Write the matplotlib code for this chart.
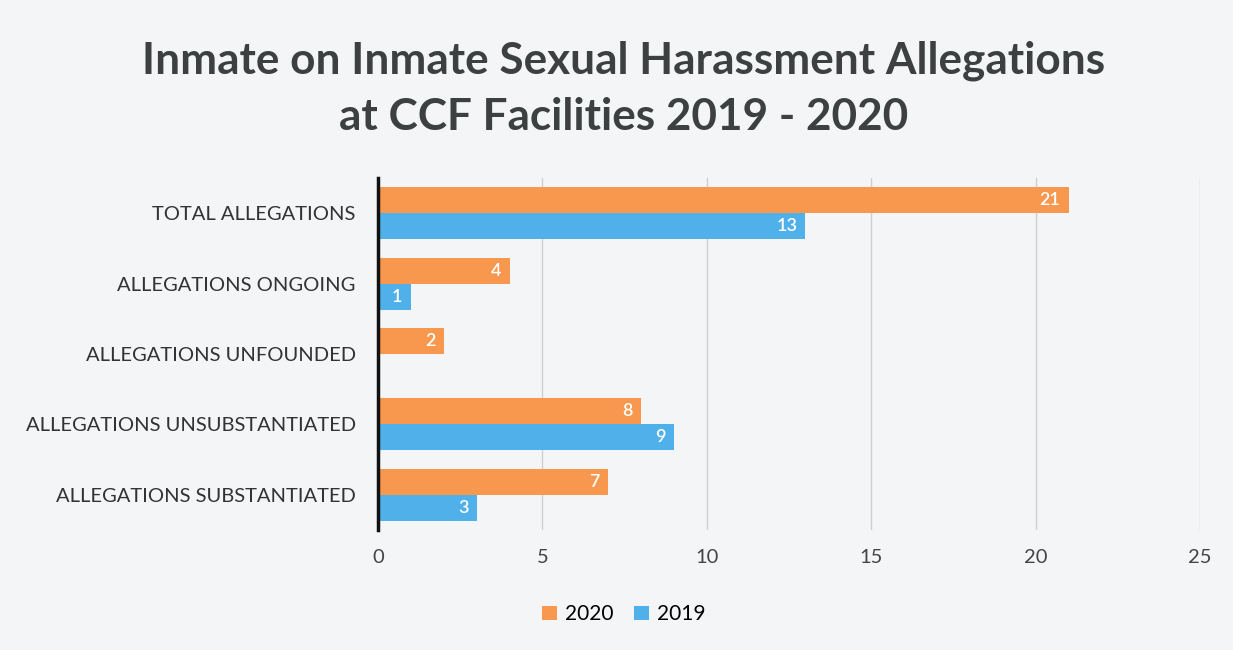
import numpy as np
import matplotlib.pyplot as plt

categories = ["TOTAL ALLEGATIONS", "ALLEGATIONS ONGOING", "ALLEGATIONS UNFOUNDED",
              "ALLEGATIONS UNSUBSTANTIATED", "ALLEGATIONS SUBSTANTIATED"]
vals_2020 = [21, 4, 2, 8, 7]
vals_2019 = [13, 1, 0, 9, 3]
xticks = [0, 5, 10, 15, 20, 25]

c2020 = '#F7984E'
c2019 = '#4FB0EA'

plt.rcParams['font.family'] = ['Lato', 'DejaVu Sans']

fig = plt.figure(figsize=(12.33, 6.5), dpi=100, facecolor='#f4f5f7')
ax = fig.add_axes([0.3066, 0.185, 0.6667, 0.541])
ax.set_facecolor('none')

y = np.arange(len(categories))
h = 0.37
ax.barh(y - h / 2, vals_2020, height=h, color=c2020, label='2020')
ax.barh(y + h / 2, vals_2019, height=h, color=c2019, label='2019')

for i in range(len(categories)):
    for v, off in ((vals_2020[i], -h / 2), (vals_2019[i], h / 2)):
        if v > 0:
            ax.text(v - 0.25, i + off, str(v), ha='right', va='center',
                    color='white', fontsize=13, fontweight='semibold')

ax.set_xlim(0, 25)
ax.set_ylim(4.5, -0.5)
ax.set_yticks(y)
ax.set_yticklabels(categories, fontsize=14.5, color='#333333')
ax.set_xticks(xticks)
ax.set_xticklabels([str(t) for t in xticks], fontsize=14.5, color='#444444')
ax.tick_params(axis='both', length=0)
ax.tick_params(axis='y', pad=16)
ax.tick_params(axis='x', pad=14)
ax.grid(axis='x', color='#cfcfcf', linewidth=1)
ax.set_axisbelow(True)
for s in ['top', 'right', 'bottom']:
    ax.spines[s].set_visible(False)
ax.spines['left'].set_linewidth(2.5)
ax.spines['left'].set_color('#111111')

fig.text(0.506, 0.863, "Inmate on Inmate Sexual Harassment Allegations\nat CCF Facilities 2019 - 2020",
         ha='center', va='center', fontsize=31.8, fontweight='bold', color='#3d4040',
         linespacing=1.48)

fig.legend(loc='center', bbox_to_anchor=(0.506, 0.055), ncol=2, frameon=False,
           fontsize=15, handlelength=0.7, handleheight=0.7, columnspacing=1.0,
           handletextpad=0.4)

fig.savefig('out.png', dpi=100, facecolor=fig.get_facecolor())
